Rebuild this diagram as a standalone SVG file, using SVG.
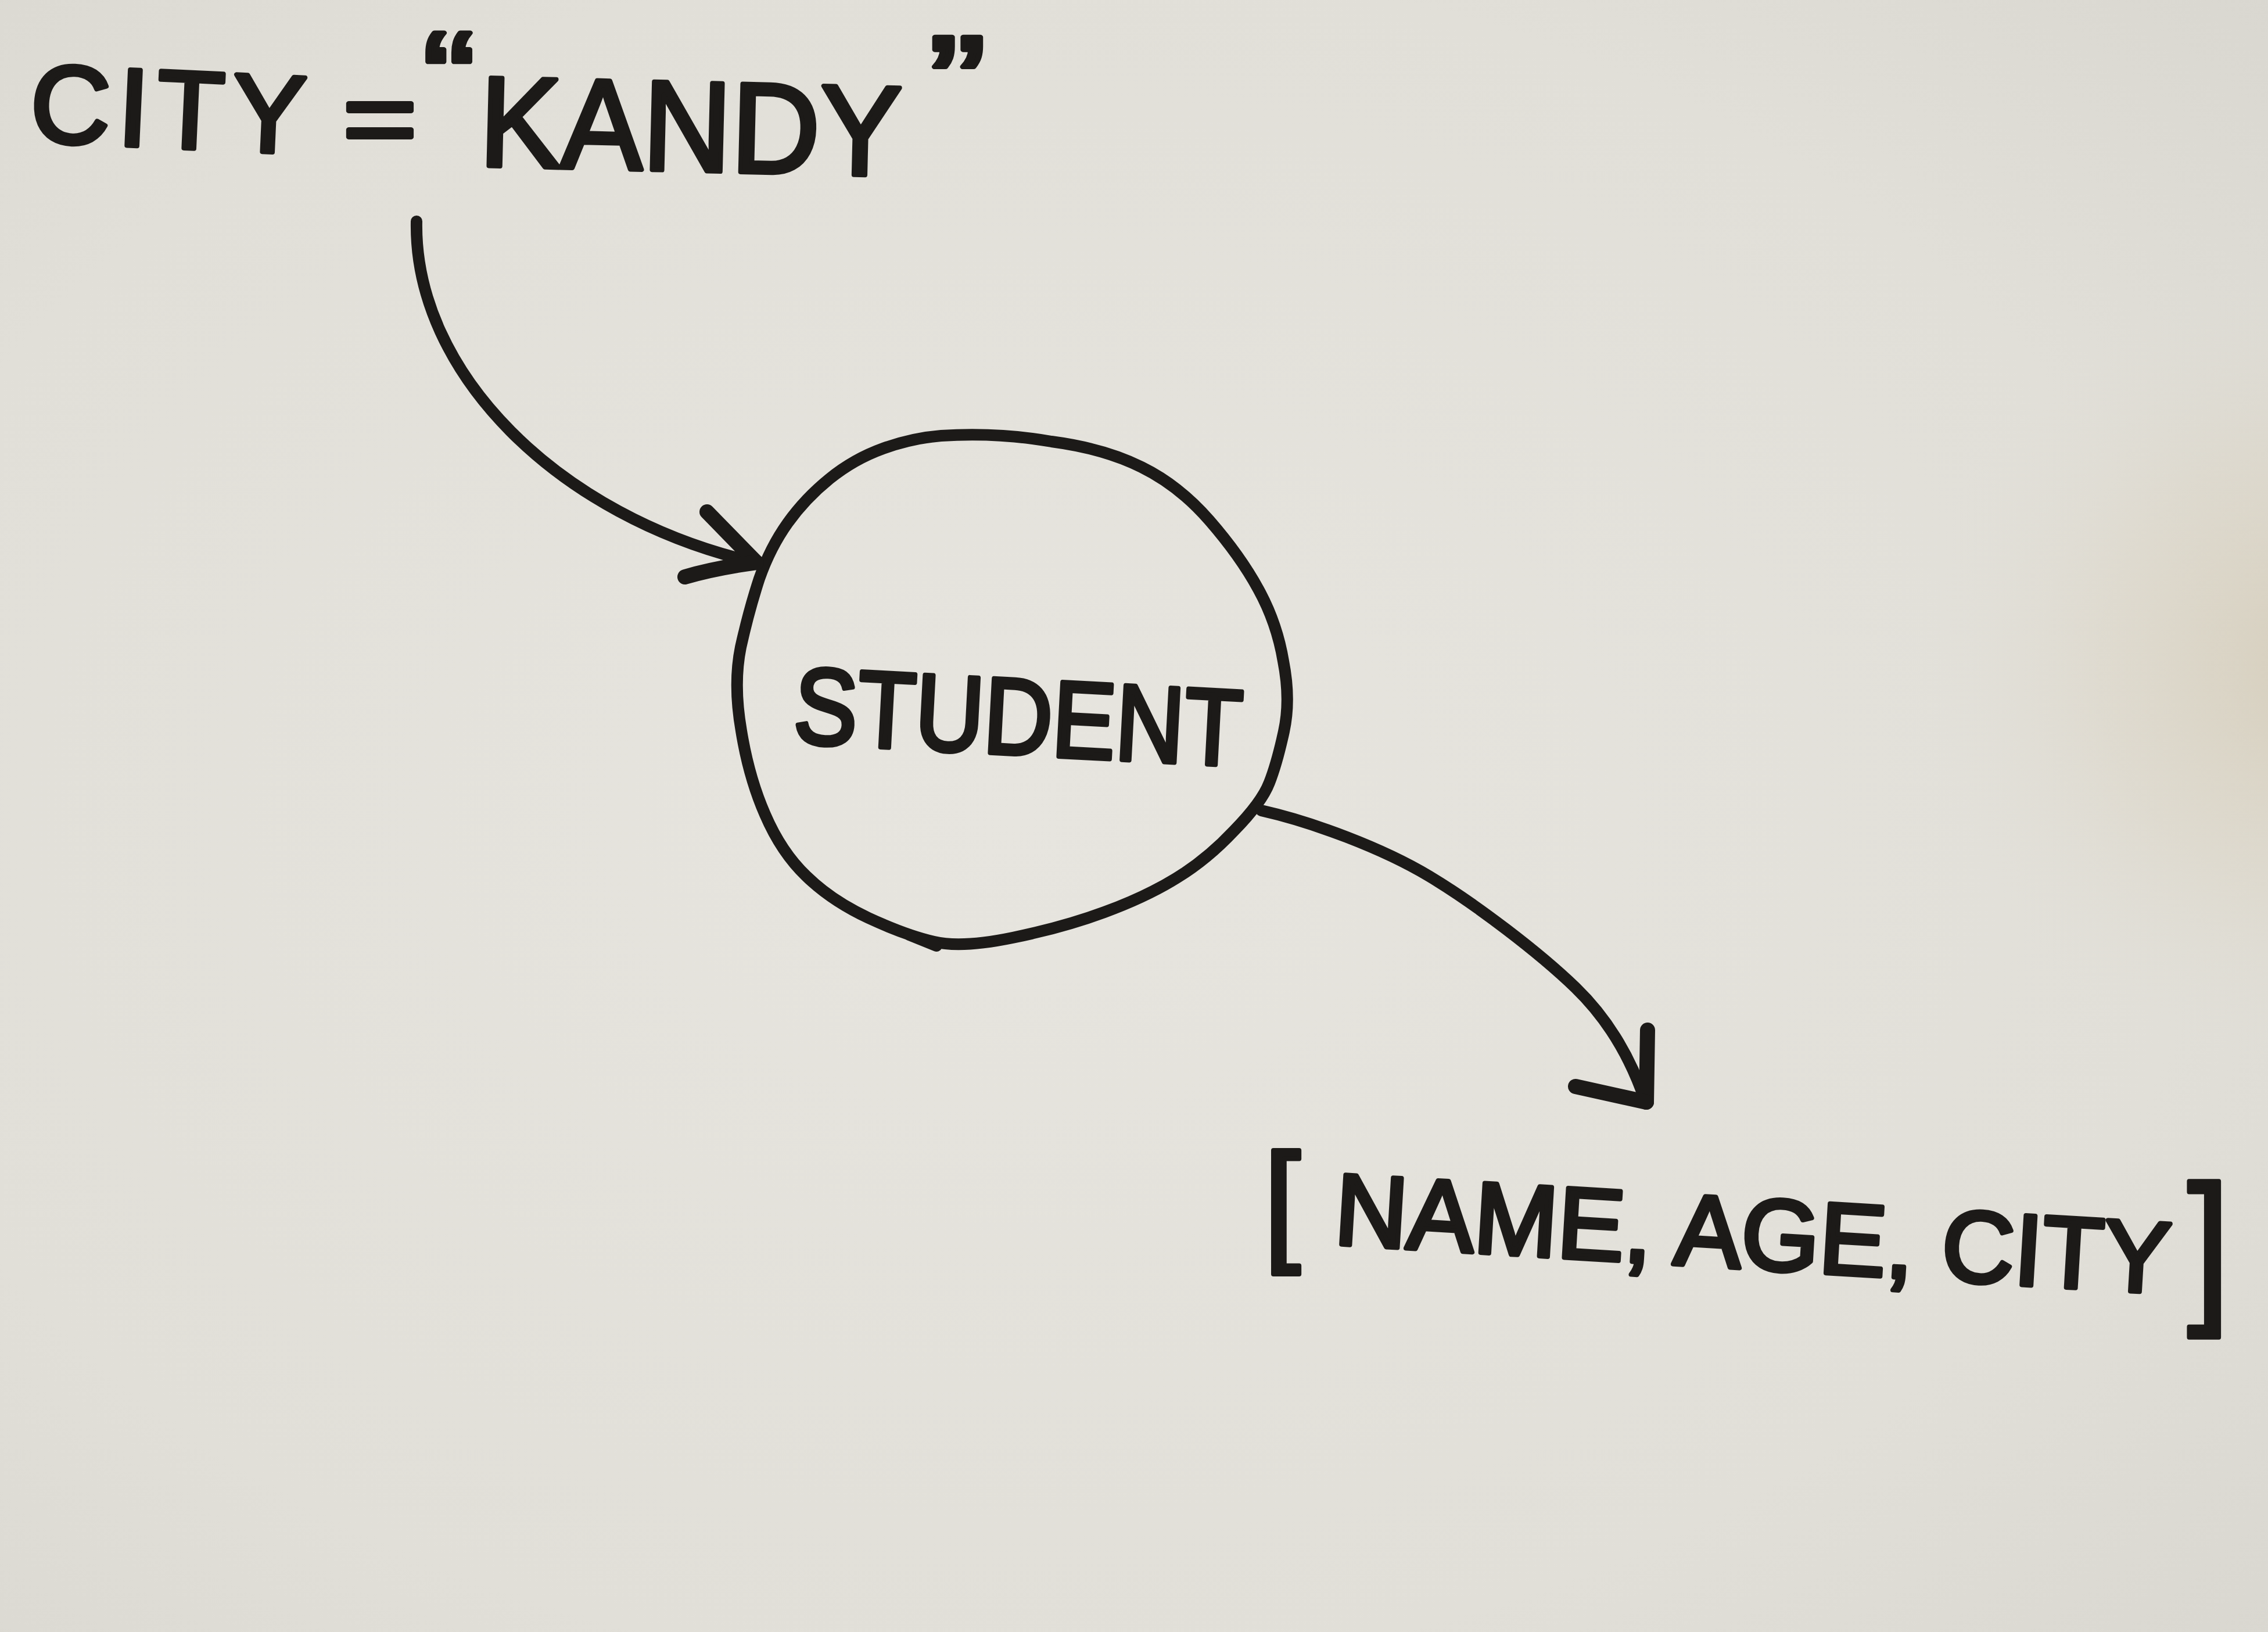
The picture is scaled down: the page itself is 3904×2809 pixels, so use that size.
<svg xmlns="http://www.w3.org/2000/svg" width="3904" height="2809" viewBox="0 0 3904 2809">
  <defs>
    <radialGradient id="paper" cx="0.45" cy="0.5" r="0.75">
      <stop offset="0" stop-color="#e7e5df"/>
      <stop offset="0.7" stop-color="#e1dfd8"/>
      <stop offset="1" stop-color="#d9d7d0"/>
    </radialGradient>
    <radialGradient id="tan" cx="4000" cy="1150" r="700" gradientUnits="userSpaceOnUse">
      <stop offset="0" stop-color="#cfc3a9" stop-opacity="0.6"/>
      <stop offset="0.55" stop-color="#d8cfbb" stop-opacity="0.3"/>
      <stop offset="1" stop-color="#e0ddd5" stop-opacity="0"/>
    </radialGradient>
    <style>
      .ink { fill: none; stroke: #1c1a18; stroke-linecap: round; stroke-linejoin: round; }
      .line { stroke-width: 20; }
      .barb { stroke-width: 26; }
      .hand { font-family: "Liberation Sans", Arial, sans-serif; fill: #1c1a18; stroke: #1c1a18; stroke-width: 8; stroke-linejoin: round; }
    </style>
  </defs>

  <rect x="0" y="0" width="3904" height="2809" fill="url(#paper)"/>
  <rect x="0" y="0" width="3904" height="2809" fill="url(#tan)"/>

  <!-- Node: CITY = "KANDY" -->
  <g id="node-city-kandy">
    <text class="hand" x="50" y="243" font-size="190" textLength="474" lengthAdjust="spacing" transform="rotate(2.6 50 243)">CITY</text>
    <text class="hand" x="590" y="266" font-size="180" textLength="128" lengthAdjust="spacingAndGlyphs">=</text>
    <text class="hand" x="727" y="210" font-size="223" textLength="92" lengthAdjust="spacingAndGlyphs">“</text>
    <text class="hand" x="824" y="285" font-size="220" textLength="726" lengthAdjust="spacingAndGlyphs" transform="rotate(1.4 824 285)">KANDY</text>
    <text class="hand" x="1598" y="222" font-size="230" textLength="100" lengthAdjust="spacingAndGlyphs">”</text>
  </g>

  <!-- Node: STUDENT -->
  <g id="node-student">
    <path class="ink line" d="M 1810 760 Q 1901 772 1965 804 Q 2030 836 2082 896 Q 2135 957 2166 1014 Q 2198 1072 2209 1138 Q 2222 1204 2210 1259 Q 2198 1314 2185 1347 Q 2172 1381 2124 1430 Q 2077 1480 2024 1512 Q 1972 1544 1901 1570 Q 1831 1596 1743 1614 Q 1656 1632 1608 1621 Q 1560 1610 1495 1580 Q 1431 1550 1388 1508 Q 1345 1467 1317 1402 Q 1289 1338 1276 1258 Q 1262 1178 1275 1114 Q 1289 1051 1307 996 Q 1326 942 1356 900 Q 1386 858 1428 824 Q 1470 790 1520 772 Q 1570 754 1620 750 Q 1719 744 1810 760 Z"/>
    <path class="ink line" d="M 1565 1609 L 1612 1628"/>
    <text class="hand" x="1364" y="1278" font-size="186" textLength="772" lengthAdjust="spacingAndGlyphs" transform="rotate(3 1364 1278)">STUDENT</text>
  </g>

  <!-- Node: [NAME, AGE, CITY] -->
  <g id="node-list">
    <text class="hand" x="2176" y="2146" font-size="228" textLength="62" lengthAdjust="spacingAndGlyphs">[</text>
    <text class="hand" x="2295" y="2141" font-size="174" textLength="1440" lengthAdjust="spacingAndGlyphs" transform="rotate(3.4 2295 2141)">NAME, AGE, CITY</text>
    <text class="hand" x="3766" y="2242" font-size="288" textLength="72" lengthAdjust="spacingAndGlyphs">]</text>
  </g>

  <!-- Connectors -->
  <g id="connectors">
    <path class="ink line" d="M 717 381 C 712 640, 960 890, 1300 968"/>
    <path class="ink barb" d="M 1217 881 L 1302 968"/>
    <path class="ink barb" d="M 1179 993 Q 1230 978, 1302 968"/>
    <path class="ink line" d="M 2171 1395 C 2260 1415, 2380 1460, 2460 1508 S 2650 1640, 2712 1700 S 2810 1830, 2832 1895"/>
    <path class="ink barb" d="M 2836 1773 L 2834 1897"/>
    <path class="ink barb" d="M 2712 1870 L 2834 1897"/>
  </g>
</svg>
